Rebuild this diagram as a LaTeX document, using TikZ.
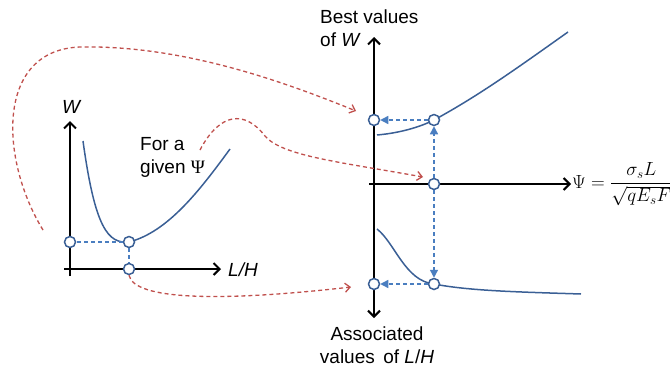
\documentclass[tikz,border=0pt]{standalone}
\usepackage{fontspec}
\usepackage{graphicx}
\setmainfont{Liberation Sans}
\newfontfamily\tmsfont{Liberation Serif}
\usetikzlibrary{arrows.meta}
\definecolor{curveblue}{HTML}{3A5F95}
\definecolor{dashblue}{HTML}{4A7EC0}
\definecolor{dashred}{HTML}{C0504D}
\tikzset{
  axis/.style={line width=2.2pt, black},
  axisarrow/.style={axis, -{Straight Barb[length=6pt,width=12pt,line width=2pt]}},
  curve/.style={line width=1.5pt, curveblue},
  mark circ/.style={circle, draw=curveblue, fill=white, line width=1.5pt, minimum size=11pt, inner sep=0pt},
  bluedash/.style={dashblue, line width=1.4pt, dash pattern=on 4pt off 3pt},
  bluearrow/.style={bluedash, -{Triangle[length=8pt,width=8pt]}},
  reddash/.style={dashred, line width=1.3pt, dash pattern=on 4pt off 3pt, -{Straight Barb[length=5pt,width=9pt]}},
  lbl/.style={font=\fontsize{19}{23}\selectfont, inner sep=0pt}
}
\begin{document}
\begin{tikzpicture}[x=1pt,y=-1pt]
\useasboundingbox (0,0) rectangle (670,370);
% left plot axes
\coordinate (lyb) at (70,276);
\coordinate (lyt) at (70,121);
\coordinate (lxl) at (64,269);
\coordinate (lxr) at (221,269);
\draw[axisarrow] (lyb) -- (lyt);
\draw[axisarrow] (lxl) -- (lxr);
\node[lbl, font=\fontsize{19}{23}\selectfont\itshape] (wl) at (71,107) {W};
\node[lbl, font=\fontsize{19}{23}\selectfont\itshape, anchor=west] (lhl) at (228,270) {L/H};
% left curve
\draw[curve] (83,141) .. controls (95,228) and (108,244) .. (129,242) .. controls (168,232) and (200,190) .. (230,149);
\node[lbl, align=left, anchor=west] (given) at (140,157) {For a\\given {\tmsfont Ψ}};
% left markers
\node[mark circ] (a1) at (70,242) {};
\node[mark circ] (a2) at (129,242) {};
\node[mark circ] (a3) at (129,269) {};
\draw[bluedash] (a2) -- (a1);
\draw[bluedash] (a2) -- (a3);
% right plot axes
\coordinate (ryt) at (374,37);
\coordinate (ryb) at (374,318);
\coordinate (rxl) at (369,184);
\coordinate (rxr) at (571,184);
\draw[axis, {Straight Barb[length=6pt,width=12pt,line width=2pt]}-{Straight Barb[length=6pt,width=12pt,line width=2pt]}] (ryt) -- (ryb);
\draw[axisarrow] (rxl) -- (rxr);
\node[lbl, align=left, anchor=north west] (best) at (320,10) {Best values\\of \textit{W}};
\node[lbl, align=center, anchor=north] (assoc) at (377,327) {Associated\\values\, of \textit{L}/\textit{H}};
\node[inner sep=0pt, anchor=west, font=\fontsize{17}{20}\selectfont] (psi) at (572,184) {\scalebox{1.1}{$\displaystyle\Psi=\frac{\sigma_s L}{\sqrt{qE_sF}}$}};
% right curves
\draw[curve] (377,135) .. controls (400,133) and (420,127) .. (434,120) .. controls (480,95) and (520,66) .. (568,32);
\draw[curve] (377,229) .. controls (395,243) and (405,281) .. (434,284) .. controls (470,291) and (520,292) .. (581,294);
% right markers
\node[mark circ] (b1) at (374,120) {};
\node[mark circ] (b2) at (434,120) {};
\node[mark circ] (b3) at (434,184) {};
\node[mark circ] (b4) at (374,284) {};
\node[mark circ] (b5) at (434,284) {};
\draw[bluearrow] (b2) -- (b1);
\draw[bluearrow] (b3) -- (b2);
\draw[bluearrow] (b3) -- (b5);
\draw[bluearrow] (b5) -- (b4);
% red connectors
\coordinate (r1s) at (43,230);
\coordinate (r1e) at (356,111);
\coordinate (r2s) at (200,150);
\coordinate (r2e) at (423,177);
\coordinate (r3e) at (351,287);
\draw[reddash] (r1s) .. controls (0,160) and (-5,50) .. (80,47) .. controls (180,45) and (280,80) .. (r1e);
\draw[reddash] (r2s) .. controls (220,112) and (245,110) .. (265,136) .. controls (282,156) and (340,162) .. (r2e);
\draw[reddash] (a3.south) .. controls (134,300) and (220,302) .. (r3e);
\end{tikzpicture}
\end{document}
